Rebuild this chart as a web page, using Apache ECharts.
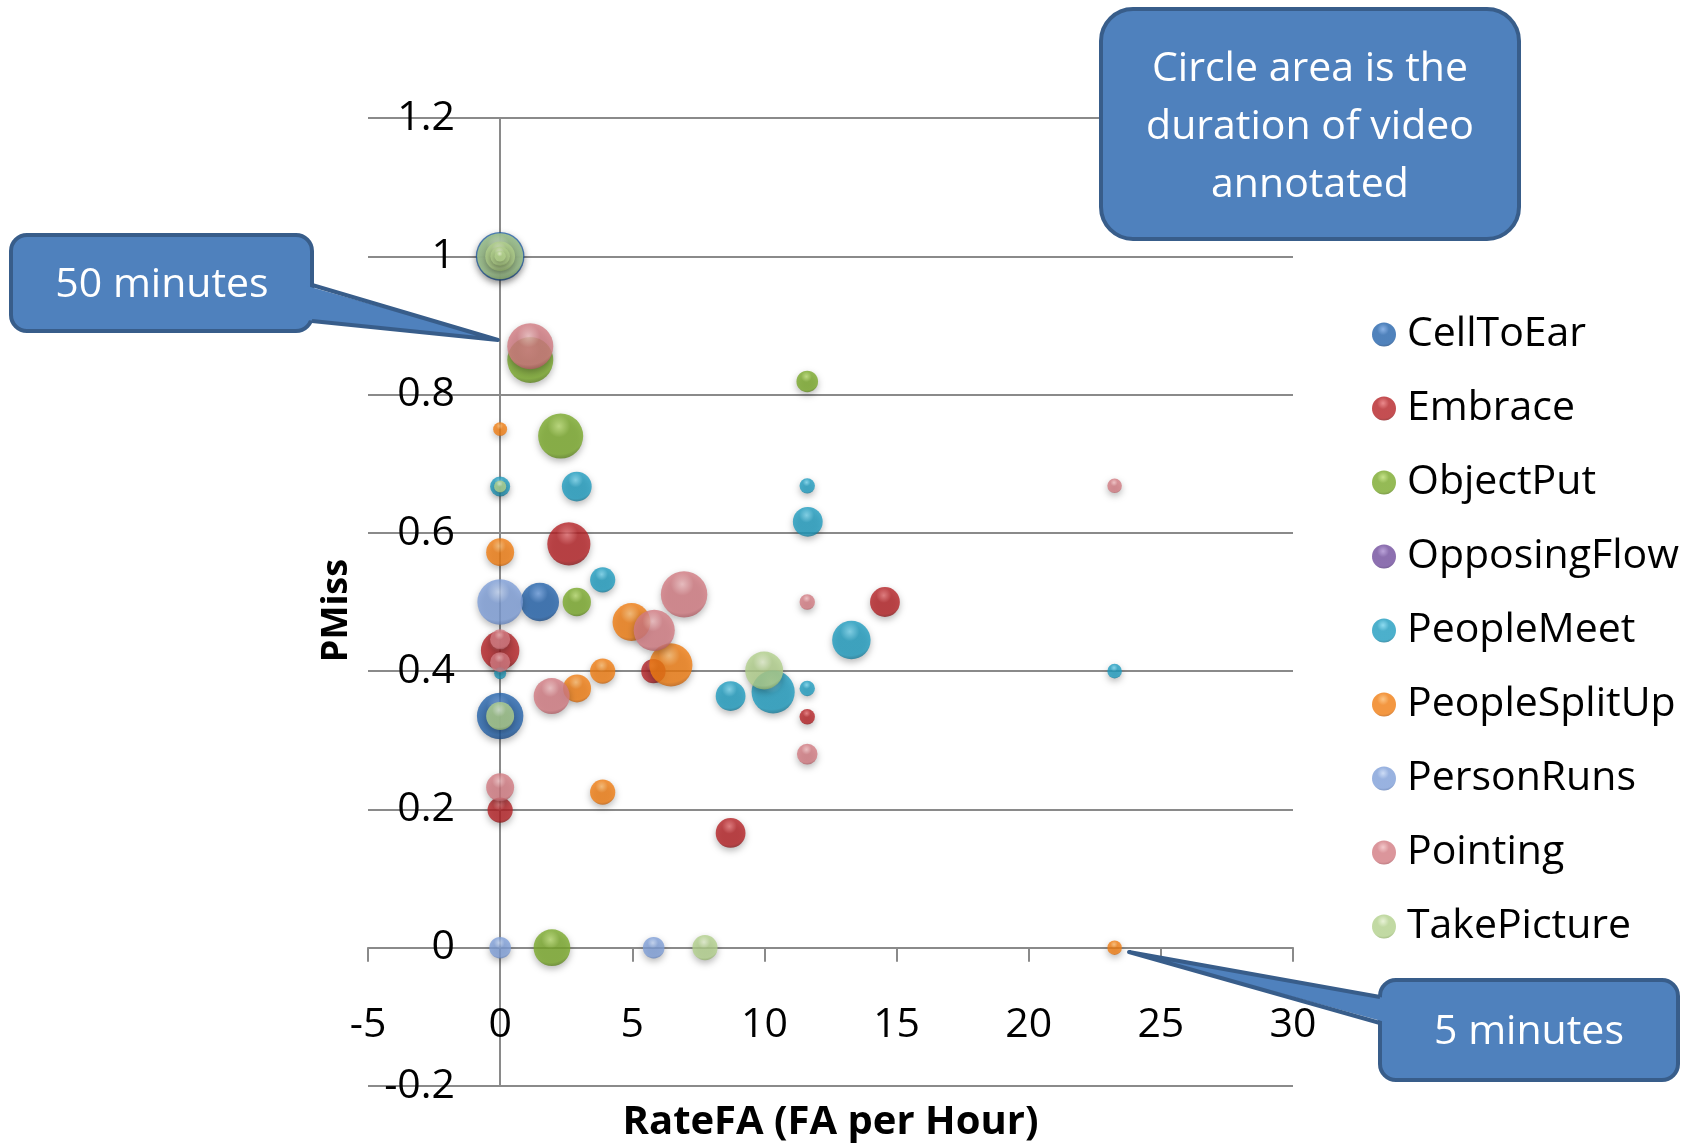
<!DOCTYPE html>
<html>
<head>
<meta charset="utf-8">
<style>
  html, body { margin: 0; padding: 0; background: #fff; }
  #chart { width: 1689px; height: 1145px; }
</style>
</head>
<body>
<div id="chart"></div>
<script src="https://cdn.jsdelivr.net/npm/echarts@6/dist/echarts.min.js"></script>
<script>
// each point: [RateFA (FA per hour), PMiss, minutes of video annotated]
const seriesNames = ['CellToEar', 'Embrace', 'ObjectPut', 'OpposingFlow', 'PeopleMeet',
  'PeopleSplitUp', 'PersonRuns', 'Pointing', 'TakePicture'];

const cellToEar = [[0, 1, 56], [1.5, 0.5, 35], [0, 0.335, 51]];
const embrace = [[2.6, 0.584, 44], [0, 0.43, 35], [5.8, 0.40, 14], [14.56, 0.5, 21],
  [11.62, 0.334, 5.6], [0, 0.199, 15], [8.72, 0.166, 21]];
const objectPut = [[1.14, 0.85, 50], [2.29, 0.74, 48], [2.9, 0.5, 19], [11.62, 0.819, 11],
  [1.96, 0, 32]];
const opposingFlow = [];
const peopleMeet = [[0, 0.667, 9.5], [2.9, 0.667, 21], [3.88, 0.532, 15], [0, 0.397, 3.4],
  [11.62, 0.668, 5.6], [11.64, 0.616, 21], [13.29, 0.445, 35], [10.33, 0.37, 44],
  [8.72, 0.364, 21], [11.62, 0.375, 5.6], [23.25, 0.4, 5]];
const peopleSplitUp = [[0, 0.75, 4.6], [0, 0.572, 18.5], [4.97, 0.471, 34], [6.46, 0.409, 44],
  [3.88, 0.40, 15], [2.91, 0.375, 18.5], [3.88, 0.225, 15], [23.25, 0, 5]];
const personRuns = [[0, 0.5, 49], [0, 0, 11], [5.81, 0, 11]];
const pointing = [[1.14, 0.87, 50], [6.96, 0.511, 51], [5.83, 0.459, 40], [1.95, 0.364, 30.6],
  [0, 0.446, 9.5], [0, 0.413, 9.5], [0, 0.232, 18.5], [11.62, 0.5, 5.6], [11.62, 0.28, 10],
  [23.25, 0.668, 5]];
const takePicture = [[0, 1, 50], [0, 1, 21], [0, 1, 9], [0, 1, 3], [0, 0.667, 3.5],
  [0, 0.335, 18.5], [9.99, 0.401, 34], [7.75, 0, 15]];

const seriesData = [cellToEar, embrace, objectPut, opposingFlow, peopleMeet,
  peopleSplitUp, personRuns, pointing, takePicture];

// base / highlight / shade for the glossy sphere look
const palette = [
  ['#2463ab', '#6d9fe0', '#143a6b'],
  ['#b52226', '#e56c6f', '#6e1214'],
  ['#7aa92b', '#b8dc6e', '#4b6c16'],
  ['#704c9c', '#a98bd0', '#452c69'],
  ['#1f9cbf', '#72d2ec', '#11627c'],
  ['#f07d12', '#fcb767', '#a8500a'],
  ['#7f9fd8', '#c0d3f3', '#4f6ca3'],
  ['#d27b82', '#f1bcbf', '#994b52'],
  ['#b2d08c', '#e2efcc', '#7c9a56']
];

const R50 = 23; // radius in px of a 50 minute bubble, area ~ minutes

const sphere = (c) => ({
  type: 'radial', x: 0.46, y: 0.28, r: 0.78,
  colorStops: [
    { offset: 0, color: c[1] },
    { offset: 0.32, color: c[0] },
    { offset: 0.8, color: c[0] },
    { offset: 1, color: c[2] }
  ]
});

const axisGray = '#8a8a8a';
const font = '"Open Sans", "Noto Sans", sans-serif';

const calloutFill = '#4f81bd';
const calloutStroke = '#385d8a';

// speech-bubble callout: box + tail to a point
const callout = (box, tip, b1, b2, inside, text, textPos) => {
  const els = [
    {
      type: 'rect',
      shape: { x: box[0], y: box[1], width: box[2], height: box[3], r: box[4] },
      style: { fill: calloutFill, stroke: calloutStroke, lineWidth: 4 },
      z: 100
    }
  ];
  if (tip) {
    els.push({
      type: 'polygon',
      shape: { points: [[b1[0] + inside, b1[1] + 1], tip, [b2[0] + inside, b2[1] - 1]] },
      style: { fill: calloutFill },
      z: 101
    });
    els.push({
      type: 'polyline',
      shape: { points: [b1, tip, b2] },
      style: { stroke: calloutStroke, lineWidth: 4, fill: null, lineJoin: 'round' },
      z: 102
    });
  }
  els.push({
    type: 'text',
    x: textPos[0], y: textPos[1],
    style: {
      text: text, fill: '#fff', fontSize: textPos[2], fontFamily: font,
      align: 'center', verticalAlign: 'middle', textAlign: 'center', textVerticalAlign: 'middle',
      lineHeight: 58
    },
    z: 103
  });
  return els;
};

const chart = echarts.init(document.getElementById('chart'));

chart.setOption({
  animation: false,
  backgroundColor: '#fff',
  grid: { left: 368, right: 396, top: 118, bottom: 59, outerBoundsMode: 'none' },
  legend: {
    orient: 'vertical',
    left: 1367,
    top: 309,
    itemWidth: 28,
    itemHeight: 24,
    itemGap: 33,
    icon: 'circle',
    data: seriesNames,
    textStyle: { fontSize: 41, lineHeight: 40, fontFamily: font, color: '#000', padding: [0, 0, 0, 4] }
  },
  xAxis: {
    type: 'value',
    min: -5,
    max: 30,
    interval: 5,
    name: 'RateFA (FA per Hour)',
    nameLocation: 'middle',
    nameGap: 17,
    nameTextStyle: { fontSize: 40, fontWeight: 'bold', fontFamily: font, color: '#000' },
    axisLine: { onZero: true, lineStyle: { color: axisGray, width: 2 } },
    axisTick: { show: true, length: 14, lineStyle: { color: axisGray, width: 2 } },
    axisLabel: { fontSize: 41, fontFamily: font, color: '#000', margin: -81 },
    splitLine: { show: false }
  },
  yAxis: {
    type: 'value',
    min: -0.2,
    max: 1.2,
    interval: 0.2,
    name: 'PMiss',
    nameLocation: 'middle',
    nameGap: 13,
    nameTextStyle: { fontSize: 36, fontWeight: 'bold', fontFamily: font, color: '#000', padding: [0, 17, 0, 0] },
    axisLine: { onZero: true, lineStyle: { color: axisGray, width: 2 } },
    axisTick: { show: false },
    axisLabel: { fontSize: 41, fontFamily: font, color: '#000', margin: -87 },
    splitLine: { show: true, lineStyle: { color: axisGray, width: 2 } }
  },
  series: seriesNames.map((name, i) => ({
    name: name,
    type: 'scatter',
    data: seriesData[i],
    symbol: 'circle',
    symbolSize: (val) => 2 * R50 * Math.sqrt(val[2] / 50),
    itemStyle: {
      color: sphere(palette[i]),
      shadowBlur: 7,
      shadowOffsetY: 3,
      shadowColor: 'rgba(0, 0, 0, 0.35)'
    },
    emphasis: { disabled: true }
  })),
  graphic: [
    ...callout([1101, 9, 418, 230, 32], null, null, null, 0,
      'Circle area is the\nduration of video\nannotated', [1310, 127, 41]),
    ...callout([11, 235, 301, 96, 16], [498, 340], [312, 285], [312, 321], -5,
      '50 minutes', [162, 285, 41]),
    ...callout([1380, 980, 298, 100, 16], [1129, 952], [1380, 997], [1380, 1023], 5,
      '5 minutes', [1529, 1032, 41])
  ]
});
</script>
</body>
</html>
